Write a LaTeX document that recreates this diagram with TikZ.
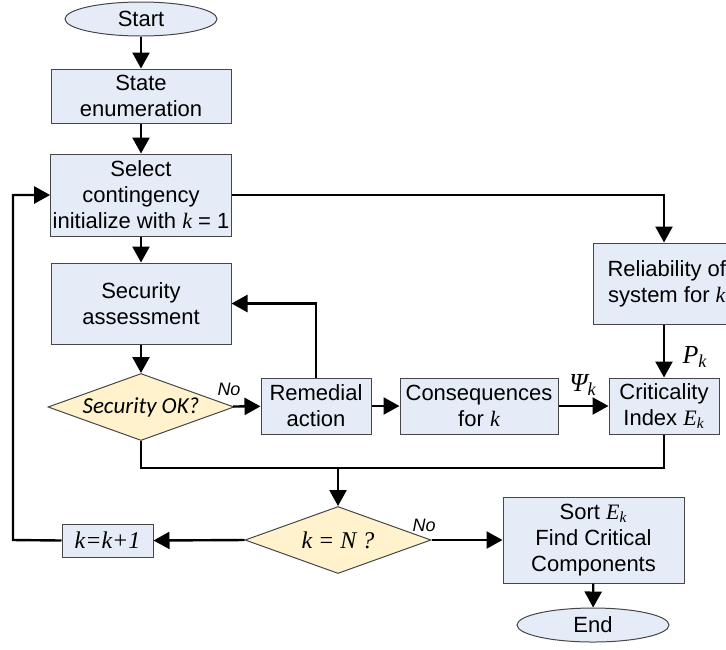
\documentclass[tikz,border=0pt]{standalone}
\usepackage{fontspec}
\setmainfont{Liberation Sans}
\newfontfamily\tnr{Liberation Serif}
\newfontfamily\carl{Carlito}
\usetikzlibrary{shapes.geometric,arrows.meta,positioning}
\newcommand{\mi}[1]{{\tnr\itshape #1}}
\definecolor{boxblue}{RGB}{230,236,247}
\definecolor{decyellow}{RGB}{255,242,204}
\definecolor{edgegray}{RGB}{70,70,70}

\begin{document}
\begin{tikzpicture}[
    x=0.5pt, y=-0.5pt,
    box/.style={draw=edgegray, fill=boxblue, line width=0.5pt, align=center, inner sep=1pt, font=\fontsize{11}{13}\selectfont},
    term/.style={ellipse, draw=edgegray, fill=boxblue, line width=0.5pt, inner sep=0pt, minimum width=76pt, minimum height=17pt, font=\fontsize{11}{13}\selectfont},
    decision/.style={diamond, draw=edgegray, fill=decyellow, line width=0.5pt, aspect=2.8, inner sep=0pt, minimum width=93pt, minimum height=33.5pt},
    arrow/.style={-{Triangle[length=8pt,width=8.5pt]}, line width=1.2pt},
    line/.style={line width=1.2pt},
    lbl/.style={font=\itshape\fontsize{9}{10}\selectfont, inner sep=0pt},
    mlbl/.style={font=\tnr\itshape\fontsize{13}{14}\selectfont, inner sep=0pt}
]
\useasboundingbox (0,0) rectangle (726,649);

% main column
\node[term] (start) at (141,19) {Start};
\node[box, minimum width=90pt, minimum height=27pt] (state) at (141,96) {State\\enumeration};
\node[box, minimum width=90pt, minimum height=41pt] (select) at (141,195) {Select\\contingency\\initialize with \mi{k} = 1};
\node[box, minimum width=90pt, minimum height=40.5pt] (secass) at (141,303.5) {Security\\assessment};
\node[decision, font=\carl\itshape\fontsize{11.5}{13}\selectfont] (secok) at (141,407) {Security OK?};

% middle row
\node[box, minimum width=55pt, minimum height=28pt] (remedial) at (316,406) {Remedial\\action};
\node[box, minimum width=79pt, minimum height=28pt] (conseq) at (479,406) {Consequences\\for \mi{k}};
\node[box, minimum width=55pt, minimum height=28pt] (crit) at (664,406) {Criticality\\Index \mi{E}\textsubscript{\mi{k}}};
\node[box, anchor=west, inner xsep=7pt, minimum height=40.5pt] (rel) at (593,283.5) {Reliability of\\system for \mi{k}};

% bottom row
\node[decision, font=\tnr\itshape\fontsize{12}{14}\selectfont] (kn) at (338,540) {k = N ?};
\node[box, minimum width=45.5pt, minimum height=16.5pt, font=\tnr\itshape\fontsize{12}{14}\selectfont] (inc) at (107.5,540.5) {k=k+1};
\node[box, minimum width=90.5pt, minimum height=43pt] (sort) at (593.5,540) {Sort \mi{E}\textsubscript{\mi{k}}\\Find Critical\\Components};
\node[term] (end) at (593,625) {End};

% labels
\node[lbl] (no1) at (229,389) {No};
\node[lbl] (no2) at (424,525) {No};
\node[mlbl] (psi) at (583,385) {Ψ\textsubscript{k}};
\node[mlbl] (pk) at (695,357) {P\textsubscript{k}};

\coordinate (merge) at (338,468);
\coordinate (loopc) at (13,540);

\draw[arrow] (start) -- (state);
\draw[arrow] (state) -- (select);
\draw[arrow] (select) -- (secass);
\draw[arrow] (secass) -- (secok);
\draw[arrow] (secok) -- (remedial);
\draw[arrow] (remedial.north) |- (secass.east);
\draw[arrow] (remedial) -- (conseq);
\draw[arrow] (conseq) -- (crit);
\draw[arrow] (select.east) -| (crit.north |- rel.north);
\draw[arrow] (rel.south -| crit.north) -- (crit.north);
\draw[line] (secok.south) |- (merge) -| (crit.south);
\draw[arrow] (merge) -- (kn.north);
\draw[arrow] (kn.west) -- (inc.east);
\draw[arrow] (inc.west) -- (loopc) |- (select.west);
\draw[arrow] (kn.east) -- (sort);
\draw[arrow] (sort) -- (end);
\end{tikzpicture}
\end{document}
